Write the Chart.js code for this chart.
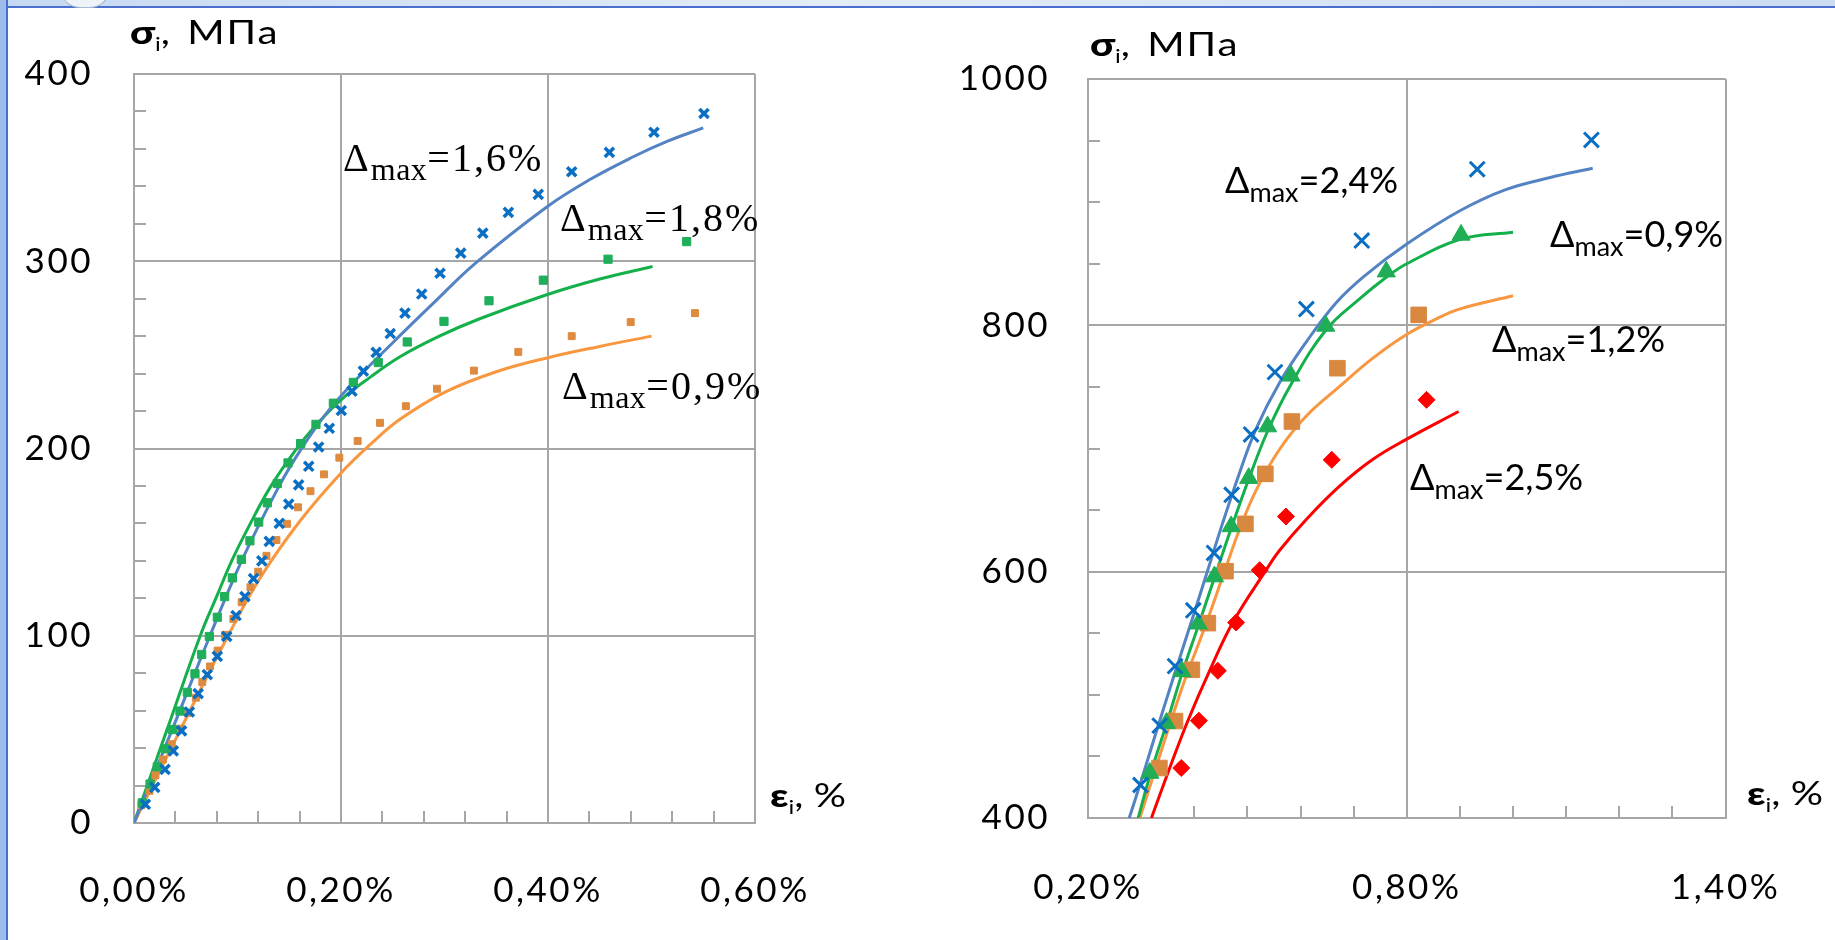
<!DOCTYPE html>
<html><head><meta charset="utf-8">
<script src="https://cdn.jsdelivr.net/npm/chart.js@4.4.1/dist/chart.umd.min.js"></script>
<style>
html,body{margin:0;padding:0;background:#fff;width:1835px;height:940px;overflow:hidden;position:relative;}
#c1{position:absolute;left:0;top:0;}
#c2{position:absolute;left:920px;top:0;}
.t{position:absolute;white-space:nowrap;line-height:1;color:#000;}
.serif{font-family:"Liberation Serif","Times New Roman",serif;font-size:40px;letter-spacing:2px;}
.serif .s{font-size:32px;position:relative;top:9px;letter-spacing:0.5px;}
.sans{font-family:Lato,"Open Sans",sans-serif;font-size:36px;}
.sans .s{font-size:27px;position:relative;top:9px;}
.ttl{font-family:Lato,"Open Sans",sans-serif;font-size:32px;transform:scaleX(1.26);transform-origin:0 0;}
.ttl b{font-weight:900;}
.ttl .s{font-size:19px;position:relative;top:7px;}
.ttl .u{letter-spacing:1.5px;margin-left:4px;}
#topbar{position:absolute;left:0;top:0;width:1835px;height:6px;background:linear-gradient(to right,#c6d9f2,#e3ecf8 45%,#cbdcf3);border-bottom:2px solid #4a6fce;}
#leftbar{position:absolute;left:0;top:0;width:6px;height:940px;background:#9dbcea;border-right:2px solid #4a6fce;}
#btn{position:absolute;left:60px;top:-12px;width:48px;height:18px;border-radius:0 0 24px 24px;background:#eef3fa;border:1px solid #a9b9cf;}
</style></head>
<body>
<div id="topbar"></div><div id="leftbar"></div><div id="btn"></div>
<canvas id="c1" width="900" height="940"></canvas>
<canvas id="c2" width="915" height="940"></canvas>

<div class="t ttl" style="left:130px;top:16px"><b>σ</b><span class="s">i</span>,<span class="u">&nbsp;МПа</span></div>
<div class="t ttl" style="left:1090px;top:28px"><b>σ</b><span class="s">i</span>,<span class="u">&nbsp;МПа</span></div>
<div class="t ttl" style="left:770px;top:779px"><b>ε</b><span class="s">i</span>, %</div>
<div class="t ttl" style="left:1747px;top:777px"><b>ε</b><span class="s">i</span>, %</div>

<div class="t serif" style="left:343px;top:138px">Δ<span class="s">max</span>=1,6%</div>
<div class="t serif" style="left:560px;top:198px">Δ<span class="s">max</span>=1,8%</div>
<div class="t serif" style="left:562px;top:366px">Δ<span class="s">max</span>=0,9%</div>

<div class="t sans" style="left:1225px;top:161px">Δ<span class="s">max</span>=2,4%</div>
<div class="t sans" style="left:1550px;top:215px">Δ<span class="s">max</span>=0,9%</div>
<div class="t sans" style="left:1492px;top:320px">Δ<span class="s">max</span>=1,2%</div>
<div class="t sans" style="left:1410px;top:458px">Δ<span class="s">max</span>=2,5%</div>

<script>
// ---------- LEFT CHART DATA (strain %, stress MPa) ----------
const L_cross_eps = [0.011,0.020,0.030,0.038,0.046,0.0535,0.062,0.0708,0.0805,0.0896,0.0986,0.1072,0.1155,0.1235,0.1307,0.1404,0.1495,0.1591,0.1688,0.1784,0.1887,0.2003,0.2106,0.2216,0.2340,0.2476,0.2618,0.278,0.2957,0.3157,0.337,0.3617,0.3906,0.4229,0.4593,0.5024,0.5507];
const L_cross_sig = [10,19,28.6,38.5,49.2,59.3,69.1,79.2,89,99.6,110.8,120.9,130.5,140,150.4,160,170.3,180.6,190.5,200.8,210.8,220.3,230.6,241.3,251.3,261.4,272.3,282.5,293.6,304.3,315,326.1,335.7,347.8,358.1,368.9,378.9];
const L_green_eps = [0.008,0.0155,0.0225,0.0303,0.037,0.0444,0.0515,0.0589,0.0654,0.0728,0.0805,0.0876,0.095,0.1037,0.112,0.1205,0.1288,0.1385,0.1488,0.161,0.1758,0.1926,0.2119,0.236,0.264,0.2995,0.343,0.3955,0.458,0.534];
const L_green_sig = [10.8,20.8,30,39.6,49.9,59.8,69.8,79.7,90,99.6,109.9,120.9,130.9,140.8,150.7,160.7,171,181.3,192.3,202.6,212.9,224.2,235.3,245.9,256.9,267.9,278.9,289.9,301.1,310.5];
const L_orange_eps = [0.0071,0.015,0.0207,0.028,0.0365,0.0445,0.0519,0.0598,0.066,0.0734,0.0808,0.0881,0.096,0.104,0.1125,0.12,0.128,0.1376,0.1478,0.1585,0.1705,0.1836,0.1984,0.2161,0.2377,0.2627,0.2927,0.3284,0.3713,0.4229,0.4799,0.542];
const L_orange_sig = [9.6,17.2,25.6,33.9,42.1,50.4,58.8,66.9,75.3,83.6,92.1,100.5,109,117.9,125.9,134.2,142.7,151.1,159.8,168.6,177.2,186.2,195.1,204,213.7,222.6,231.9,241.6,251.6,260,267.5,272.3];
// model curves
const L_blueLine_eps = [0,0.037,0.0734,0.104,0.1394,0.1604,0.1862,0.215,0.25,0.29,0.33,0.3988,0.44,0.4824,0.515,0.55];
const L_blueLine_sig = [0,50,100,140,179.1,198.7,219,237,256.5,278,299,329,343.5,355.8,364,371.2];
const L_greenLine_eps = [0,0.032,0.064,0.0799,0.0944,0.1121,0.1314,0.1556,0.1765,0.2022,0.228,0.257,0.295,0.334,0.3987,0.45,0.501];
const L_greenLine_sig = [0,50,100,121,140,159.6,179.1,198.7,212.9,227.1,238,249,260,269.3,282.1,290.5,297.2];
const L_orangeLine_eps = [0,0.045,0.089,0.1217,0.16,0.199,0.23,0.257,0.3,0.35,0.4,0.45,0.5];
const L_orangeLine_sig = [0,50,98,130.7,161,186.3,203,215.6,230,241,248.5,254.5,260];
// ticks
const L_xTicks = [0,0.04,0.08,0.12,0.16,0.2,0.24,0.28,0.32,0.36,0.4,0.44,0.48,0.52,0.56,0.6];
const L_xLabels = [0,0.2,0.4,0.6];
const L_yTicks = [0,20,40,60,80,100,120,140,160,180,200,220,240,260,280,300,320,340,360,380,400];
const L_yLabels = [0,100,200,300,400];

// ---------- RIGHT CHART DATA ----------
const R_cross_eps = [0.2988,0.335,0.3638,0.3982,0.4372,0.4704,0.5069,0.5519,0.611,0.7153,0.9326,1.1475];
const R_cross_sig = [426.8,475,523.3,568.6,615.2,662.4,711.4,762,813.2,868.8,926.8,950.5];
const R_tri_eps = [0.3163,0.3475,0.3768,0.4075,0.438,0.4694,0.5025,0.538,0.582,0.6475,0.7614,0.9022];
const R_tri_sig = [436.5,477,519,557.7,596,636.7,675.9,717.8,759,799.5,843.6,873.4];
const R_sq_eps = [0.3344,0.3638,0.3956,0.4256,0.4588,0.4963,0.5338,0.5838,0.6694,0.8224];
const R_sq_sig = [440.6,478.7,520.3,558.2,600.4,638.8,679.4,721.9,765.2,808.5];
const R_dia_eps = [0.3756,0.4088,0.4444,0.4788,0.5231,0.5725,0.6588,0.8372];
const R_dia_sig = [440.6,479,519.5,558.7,601.2,644.8,690.8,739.5];
const R_blueLine_eps = [0.2776,0.3,0.3249,0.36,0.3988,0.4194,0.4538,0.485,0.5163,0.56,0.61,0.6663,0.72,0.8,0.9,0.985,1.07,1.15];
const R_blueLine_sig = [400,430,465,513,565,593,640,680,716,753,786,818,840,866,893,910,920,927.5];
const R_greenLine_eps = [0.2944,0.3163,0.3475,0.3768,0.4075,0.438,0.4694,0.5025,0.538,0.582,0.6475,0.71,0.7614,0.8,0.9022,1.0];
const R_greenLine_sig = [400,434,476,517,556,595,635,675,714,752,796,821,839,850,870,875.6];
const R_orangeLine_eps = [0.2975,0.3756,0.42,0.46,0.485,0.5163,0.56,0.61,0.6725,0.735,0.7975,0.85,0.8975,1.0];
const R_orangeLine_sig = [400,504,555,604,634,666,699,726,750,773,792,804,813,824];
const R_redLine_eps = [0.3194,0.3538,0.388,0.4288,0.4725,0.535,0.56,0.61,0.6725,0.735,0.7975,0.8975];
const R_redLine_sig = [400,440.6,479,519.5,558.7,601.2,617,642,669,690.8,707,730];
const R_xTicks = [0.2,0.3,0.4,0.5,0.6,0.7,0.8,0.9,1.0,1.1,1.2,1.3,1.4];
const R_xLabels = [0.2,0.8,1.4];
const R_yTicks = [400,450,500,550,600,650,700,750,800,850,900,950,1000];
const R_yLabels = [400,600,800,1000];

// ---------- helpers ----------
const zip = (xs, ys) => xs.map((x, i) => ({x: x, y: ys[i]}));
const has = (arr, v) => arr.some(a => Math.abs(a - v) < 1e-6);
const pct = v => v.toFixed(2).replace('.', ',') + '%';
const GRID = '#a6a6a6';
const TICKFONT = {family: 'Lato, "Open Sans", sans-serif', size: 35};

const spacing = {id: 'spacing', beforeDraw(chart) { chart.ctx.letterSpacing = '2.5px'; }};

function markers(data, style, color, r, bw) {
  return {type: 'scatter', data: data, showLine: false, pointStyle: style, pointRadius: r,
          pointHoverRadius: r, backgroundColor: color, borderColor: color, pointBorderWidth: bw};
}
function curve(data, color) {
  return {type: 'line', data: data, showLine: true, pointRadius: 0, borderColor: color,
          borderWidth: 3, fill: false, tension: 0.4, cubicInterpolationMode: 'default'};
}
function scales(xMin, xMax, xTicks, xLabels, yMin, yMax, yTicks, yLabels, yW, xH, yPad, xPad) {
  return {
    x: {type: 'linear', min: xMin, max: xMax,
        afterBuildTicks: s => { s.ticks = xTicks.map(v => ({value: v})); },
        afterFit: s => { s.height = xH; },
        ticks: {autoSkip: false, maxRotation: 0, padding: xPad, color: '#000', font: TICKFONT,
                callback: v => has(xLabels, v) ? pct(v) : ''},
        grid: {drawTicks: true, tickLength: -12, lineWidth: 2, tickWidth: 2,
               color: c => (c.tick && has(xLabels, c.tick.value)) ? GRID : 'rgba(0,0,0,0)', tickColor: GRID},
        border: {display: true, color: GRID, width: 2}},
    y: {type: 'linear', min: yMin, max: yMax,
        afterBuildTicks: s => { s.ticks = yTicks.map(v => ({value: v})); },
        afterFit: s => { s.width = yW; },
        ticks: {autoSkip: false, padding: yPad, color: '#000', font: TICKFONT,
                callback: v => has(yLabels, v) ? String(v) : ''},
        grid: {drawTicks: true, tickLength: -12, lineWidth: 2, tickWidth: 2,
               color: c => (c.tick && has(yLabels, c.tick.value)) ? GRID : 'rgba(0,0,0,0)', tickColor: GRID},
        border: {display: true, color: GRID, width: 2}}
  };
}
const common = {responsive: false, animation: false, devicePixelRatio: 1,
  plugins: {legend: {display: false}, tooltip: {enabled: false}}};

new Chart(document.getElementById('c1'), {
  type: 'scatter',
  plugins: [spacing],
  data: {datasets: [
    markers(zip(L_cross_eps, L_cross_sig), 'crossRot', '#0a6fc2', 6.5, 3.5),
    markers(zip(L_green_eps, L_green_sig), 'rect', '#1fae5a', 5.8, 1),
    markers(zip(L_orange_eps, L_orange_sig), 'rect', '#de8a3f', 4.9, 1),
    curve(zip(L_blueLine_eps, L_blueLine_sig), '#5383c3'),
    curve(zip(L_greenLine_eps, L_greenLine_sig), '#14b04c'),
    curve(zip(L_orangeLine_eps, L_orangeLine_sig), '#f8973f')
  ]},
  options: Object.assign({}, common, {
    layout: {padding: {left: 0, top: 72, right: 145, bottom: 0}},
    scales: scales(0, 0.6, L_xTicks, L_xLabels, 0, 400, L_yTicks, L_yLabels, 134, 117, 53, 59)
  })
});

new Chart(document.getElementById('c2'), {
  type: 'scatter',
  plugins: [spacing],
  data: {datasets: [
    markers(zip(R_cross_eps, R_cross_sig), 'crossRot', '#0a6fc2', 10.5, 3),
    markers(zip(R_tri_eps, R_tri_sig), 'triangle', '#1fad55', 10.5, 1),
    markers(zip(R_sq_eps, R_sq_sig), 'rect', '#d98840', 11, 1),
    markers(zip(R_dia_eps, R_dia_sig), 'rectRot', '#ff0000', 8.5, 1),
    curve(zip(R_blueLine_eps, R_blueLine_sig), '#5383c3'),
    curve(zip(R_greenLine_eps, R_greenLine_sig), '#14b04c'),
    curve(zip(R_orangeLine_eps, R_orangeLine_sig), '#f8973f'),
    curve(zip(R_redLine_eps, R_redLine_sig), '#ff0000')
  ]},
  options: Object.assign({}, common, {
    layout: {padding: {left: 0, top: 79, right: 107, bottom: 0}},
    scales: scales(0.2, 1.4, R_xTicks, R_xLabels, 400, 1000, R_yTicks, R_yLabels, 168, 122, 50, 61)
  })
});
</script>
</body></html>
